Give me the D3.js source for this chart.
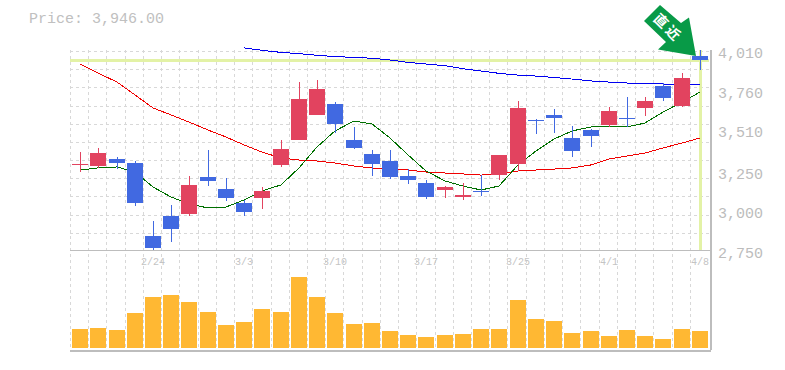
<!DOCTYPE html>
<html>
<head>
<meta charset="utf-8">
<script src="https://cdn.jsdelivr.net/npm/d3@7"></script>
<style>
    html, body { margin: 0; background: #fff; }
    text { font-family: "Liberation Mono", "DejaVu Sans Mono", monospace; }
</style>
</head>
<body>
<div id="chart"></div>
<script>
const dates = ["2/18","2/19","2/20","2/21","2/24","2/25","2/26","2/27","2/28","3/3","3/4","3/5","3/6","3/7","3/10","3/11","3/12","3/13","3/14","3/17","3/18","3/19","3/21","3/24","3/25","3/26","3/27","3/28","3/31","4/1","4/2","4/3","4/4","4/7","4/8"];
const opens  = [3285,3279,3323,3298,2838,2964,2977,3210,3134,3046,3078,3286,3443,3600,3670,3443,3355,3311,3216,3172,3128,3084,3122,3222,3292,3569,3600,3456,3506,3537,3582,3645,3783,3657,3972];
const highs  = [3367,3393,3336,3311,2933,3034,3216,3380,3204,3065,3147,3443,3808,3821,3682,3525,3380,3380,3260,3191,3153,3172,3223,3349,3689,3575,3638,3531,3512,3651,3714,3714,3802,3865,4010];
const lows   = [3241,3267,3260,3027,2750,2800,2964,3153,3059,2964,3008,3273,3443,3600,3487,3386,3216,3197,3166,3071,3078,3065,3090,3191,3248,3481,3487,3336,3399,3525,3525,3594,3689,3651,3884];
const closes = [3290,3361,3298,3046,2763,2882,3160,3185,3078,2989,3122,3386,3701,3764,3544,3393,3292,3210,3191,3084,3147,3097,3115,3349,3645,3563,3582,3374,3468,3626,3575,3689,3708,3834,3946];
const volumes = [1900,2000,1800,3500,5100,5300,4600,3600,2300,2600,3900,3600,7100,5100,3500,2400,2500,1700,1300,1100,1300,1400,1900,1900,4800,2900,2700,1500,1700,1200,1800,1200,900,1900,1700];
const ma5  = [3254,3267,3273,3241,3147,3084,3040,3015,3021,3065,3122,3160,3267,3399,3500,3563,3544,3456,3349,3248,3185,3153,3128,3153,3286,3374,3449,3500,3525,3525,3525,3550,3619,3682,3745];
const ma25 = [3922,3865,3808,3727,3645,3601,3556,3506,3462,3412,3367,3330,3317,3311,3298,3279,3267,3260,3254,3241,3235,3229,3222,3229,3248,3254,3260,3267,3286,3323,3342,3361,3393,3424,3456];
const ma75 = [null,null,null,null,null,null,null,null,null,4023,4008,3995,3987,3977,3968,3964,3958,3947,3932,3922,3911,3892,3878,3863,3852,3846,3837,3827,3815,3808,3802,3796,3796,3790,3790];

const priceTicks = [4010, 3760, 3510, 3250, 3000, 2750];
const dateTicks = ["2/24","3/3","3/10","3/17","3/25","4/1","4/8"];
const currentPrice = 3946;

const width = 785, height = 370;
const plot = { left: 70, right: 709, top: 50, mid: 250, bottom: 350 };

const svg = d3.select("#chart").append("svg")
    .attr("width", width)
    .attr("height", height)
    .style("display", "block");

const x = d3.scaleBand()
    .domain(dates)
    .range([plot.left + 1, plot.right])
    .paddingInner(0);

const y = d3.scaleLinear()
    .domain([2750, 4010])
    .range([plot.mid, plot.top]);

const yVol = d3.scaleLinear()
    .domain([0, 8000])
    .range([348, 268]);

const cx = d => Math.round(x(d) + x.bandwidth() / 2);

// grid
const gridColor = "#d8d8d8";
const grid = svg.append("g")
    .attr("stroke", gridColor)
    .attr("stroke-dasharray", "3,3")
    .attr("shape-rendering", "crispEdges");

grid.selectAll(".v")
    .data(d3.range(0, 35))
    .join("line")
    .attr("x1", i => Math.round(x(dates[i]) - 1) + 0.5)
    .attr("x2", i => Math.round(x(dates[i]) - 1) + 0.5)
    .attr("y1", plot.top)
    .attr("y2", plot.bottom);

grid.selectAll(".h")
    .data(d3.range(0, 11))
    .join("line")
    .attr("x1", plot.left)
    .attr("x2", plot.right)
    .attr("y1", i => Math.round(plot.top + 1 + i * 200 / 11) + 0.5)
    .attr("y2", i => Math.round(plot.top + 1 + i * 200 / 11) + 0.5);

// frame
const frame = svg.append("g")
    .attr("stroke", "#bdbdbd")
    .attr("shape-rendering", "crispEdges");
frame.append("line").attr("x1", plot.left).attr("x2", plot.right + 1).attr("y1", plot.mid + 0.5).attr("y2", plot.mid + 0.5);
frame.append("line").attr("x1", plot.left).attr("x2", plot.right + 2).attr("y1", plot.bottom + 0.5).attr("y2", plot.bottom + 0.5).attr("stroke-width", 2);
frame.append("line").attr("x1", plot.right + 1.5).attr("x2", plot.right + 1.5).attr("y1", plot.top).attr("y2", plot.bottom).attr("stroke-width", 2);

// crosshair at the latest price
const hair = svg.append("g").attr("fill", "#e3f2a6");
hair.append("rect")
    .attr("x", plot.left)
    .attr("y", Math.round(y(currentPrice)) - 1)
    .attr("width", plot.right - plot.left)
    .attr("height", 3);
hair.append("rect")
    .attr("x", cx(dates[34]) - 1)
    .attr("y", plot.top)
    .attr("width", 3)
    .attr("height", plot.mid - plot.top);

// moving averages
const line = d3.line()
    .defined(d => d.v !== null)
    .x(d => cx(d.date))
    .y(d => y(d.v));

const lines = [
    { values: ma75, color: "#0000f0" },
    { values: ma25, color: "#f00000" },
    { values: ma5, color: "#007000" }
];

lines.forEach(l => {
    svg.append("path")
        .datum(l.values.map((v, i) => ({ date: dates[i], v })))
        .attr("fill", "none")
        .attr("stroke", l.color)
        .attr("stroke-width", 1)
        .attr("shape-rendering", "crispEdges")
        .attr("d", line);
});

// candles
const upColor = "#e2435f", downColor = "#4169e1";
const candles = svg.append("g")
    .attr("shape-rendering", "crispEdges")
    .selectAll("g")
    .data(dates.map((date, i) => ({ date, o: opens[i], h: highs[i], l: lows[i], c: closes[i] })))
    .join("g")
    .attr("fill", d => d.c >= d.o ? upColor : downColor)
    .attr("stroke", d => d.c >= d.o ? upColor : downColor);

candles.append("line")
    .attr("x1", d => cx(d.date) + 0.5)
    .attr("x2", d => cx(d.date) + 0.5)
    .attr("y1", d => y(d.h))
    .attr("y2", d => y(d.l));

candles.append("rect")
    .attr("x", d => cx(d.date) - 8)
    .attr("y", d => y(Math.max(d.o, d.c)))
    .attr("width", 16)
    .attr("height", d => Math.max(1, Math.abs(y(d.o) - y(d.c))))
    .attr("stroke", "none");

// volume
svg.append("g")
    .attr("fill", "#ffb833")
    .attr("shape-rendering", "crispEdges")
    .selectAll("rect")
    .data(volumes)
    .join("rect")
    .attr("x", (d, i) => cx(dates[i]) - 8)
    .attr("y", d => yVol(d))
    .attr("width", 16)
    .attr("height", d => yVol(0) - yVol(d));

// axis labels
svg.append("g")
    .selectAll("text")
    .data(priceTicks)
    .join("text")
    .attr("x", 718)
    .attr("y", d => y(d) + 8)
    .attr("font-size", 15)
    .attr("fill", "#bcbcbc")
    .text(d => d3.format(",")(d));

svg.append("g")
    .selectAll("text")
    .data(dateTicks)
    .join("text")
    .attr("x", d => cx(d))
    .attr("y", 265)
    .attr("text-anchor", "middle")
    .attr("font-size", 10)
    .attr("fill", "#c4c4c4")
    .text(d => d);

svg.append("text")
    .attr("x", 29)
    .attr("y", 23)
    .attr("font-size", 15)
    .attr("fill", "#c0c0c0")
    .text("Price: " + d3.format(",.2f")(currentPrice));

// arrow pointing at the latest candle
const arrow = svg.append("g")
    .attr("transform", `translate(${cx(dates[34]) - 4},${y(highs[34]) + 6})`);
arrow.append("path")
    .attr("d", "M0,0 L-38,-6.5 L-30,-14 L-52,-35 L-36,-51 L-15,-33 L-7,-38.5 Z")
    .attr("fill", "#089a47");
arrow.append("text")
    .attr("transform", "translate(-28,-28) rotate(45)")
    .attr("text-anchor", "middle")
    .attr("font-size", 14)
    .attr("font-weight", 700)
    .attr("letter-spacing", 3)
    .attr("fill", "#fff")
    .style("font-family", "'Noto Sans CJK JP', sans-serif")
    .attr("dy", "0.35em")
    .text("直近");
</script>
</body>
</html>
